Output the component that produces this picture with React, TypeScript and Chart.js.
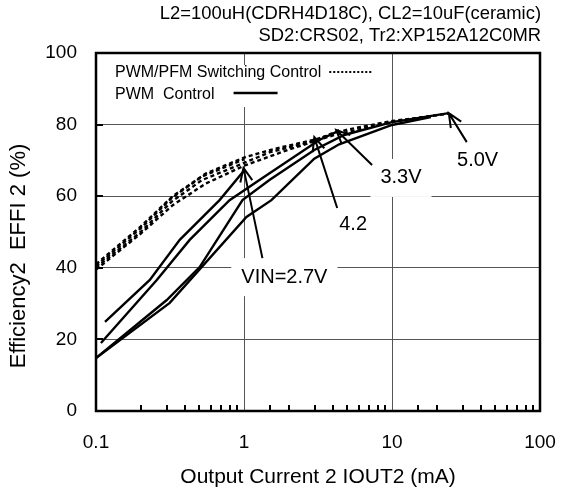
import React, { useEffect, useRef } from 'react';
import { Chart, registerables } from 'chart.js';

Chart.register(...registerables);

const FONT = '"Liberation Sans", Arial, Helvetica, sans-serif';

// ---- axis ticks ----
const xMajorTicks = [0.1, 1, 10, 100];
const yTickStep = 20;

// ---- PWM control (solid lines) ----
const pwm27X = [0.115, 0.231, 0.368, 0.684, 1.008];
const pwm27Y = [24.9, 36.6, 47.8, 58.9, 67.3];
const pwm33X = [0.108, 0.2575, 0.4295, 0.7988, 1.272, 3.224, 4.4];
const pwm33Y = [19.0, 36.6, 47.8, 58.9, 64.5, 75.7, 78.3];
const pwm42X = [0.1, 0.315, 1.039, 1.532, 2.984, 4.396, 10, 18.3];
const pwm42Y = [14.8, 30.2, 54.2, 58.9, 70.5, 74.5, 79.9, 82.1];
const pwm50X = [0.1, 0.3007, 0.5017, 0.977, 1.485, 2.984, 4.752, 10, 24.2];
const pwm50Y = [14.8, 31.0, 40.2, 58.9, 64.5, 72.9, 77.1, 80.7, 83.2];

// ---- PWM/PFM switching control (dashed lines) ----
const pfm27X = [0.1, 0.2, 0.325, 0.52, 1.0];
const pfm27Y = [40.5, 51.0, 59.5, 65.5, 70.3];
const pfm33X = [0.1, 0.2, 0.325, 0.52, 1.0, 1.5, 3.0, 4.4];
const pfm33Y = [40.0, 50.0, 58.5, 64.5, 69.3, 72.3, 75.5, 78.4];
const pfm42X = [0.1, 0.2, 0.33, 0.55, 1.0, 1.6, 3.0, 5.0, 10, 18.3];
const pfm42Y = [41.0, 51.5, 60.0, 66.3, 70.8, 73.2, 75.8, 78.6, 81.0, 82.3];
const pfm50X = [0.1, 0.2, 0.33, 0.55, 1.0, 2.0, 4.0, 10, 24.2];
const pfm50Y = [39.5, 49.5, 57.5, 63.5, 68.5, 73.0, 77.0, 80.8, 83.1];

// ---- annotations (data coordinates) ----
const noteLabels = ['VIN=2.7V', '4.2', '3.3V', '5.0V'];
const noteTextX = [1.874, 5.46, 11.5, 37.9];
const noteTextY = [37.4, 52.0, 65.1, 70.1];
const noteTailX = [1.332, 4.263, 7.335, 32.0];
const noteTailY = [42.7, 56.7, 68.7, 75.1];
const noteTipX = [0.992, 2.984, 4.197, 24.2];
const noteTipY = [67.9, 76.5, 78.5, 83.2];

const headerLines = ['L2=100uH(CDRH4D18C), CL2=10uF(ceramic)', 'SD2:CRS02, Tr2:XP152A12C0MR'];
const legendLabels = ['PWM/PFM Switching Control', 'PWM  Control'];
const xTitle = 'Output Current 2 IOUT2 (mA)';
const yTitle = 'Efficiency2  EFFI 2 (%)';

const toPoints = (xs: number[], ys: number[]) => xs.map((x, i) => ({ x, y: ys[i] }));
const isDecade = (v: number) => Math.abs(Math.log10(v) - Math.round(Math.log10(v))) < 1e-6;

function drawArrow(ctx: CanvasRenderingContext2D, x1: number, y1: number, x2: number, y2: number) {
  const a = Math.atan2(y2 - y1, x2 - x1);
  const L = 15;
  const s = 0.42;
  ctx.beginPath();
  ctx.moveTo(x1, y1);
  ctx.lineTo(x2, y2);
  ctx.moveTo(x2 - L * Math.cos(a - s), y2 - L * Math.sin(a - s));
  ctx.lineTo(x2, y2);
  ctx.lineTo(x2 - L * Math.cos(a + s), y2 - L * Math.sin(a + s));
  ctx.stroke();
}

const decor = {
  id: 'decor',
  beforeDatasetsDraw(chart: any) {
    const ctx = chart.ctx as CanvasRenderingContext2D;
    const xs = chart.scales.x;
    const ys = chart.scales.y;
    const area = chart.chartArea;
    ctx.save();
    ctx.fillStyle = '#fff';
    // legend background
    ctx.fillRect(area.left + 8, area.top + 12, 280, 42);
    // label backgrounds
    ctx.font = `20px ${FONT}`;
    noteLabels.forEach((t, i) => {
      const cx = xs.getPixelForValue(noteTextX[i]);
      const cy = ys.getPixelForValue(noteTextY[i]);
      const w = ctx.measureText(t).width + 20;
      ctx.fillRect(cx - w / 2, cy - 19, w, 38);
    });
    ctx.restore();
  },
  afterDatasetsDraw(chart: any) {
    const ctx = chart.ctx as CanvasRenderingContext2D;
    const xs = chart.scales.x;
    const ys = chart.scales.y;
    const area = chart.chartArea;
    ctx.save();
    ctx.strokeStyle = '#000';
    ctx.fillStyle = '#000';
    // minor ticks on x axis (inward)
    ctx.lineWidth = 2;
    xs.ticks.forEach((t: any) => {
      if (isDecade(t.value)) return;
      const px = Math.round(xs.getPixelForValue(t.value));
      ctx.beginPath();
      ctx.moveTo(px, area.bottom);
      ctx.lineTo(px, area.bottom - 6);
      ctx.stroke();
    });
    // y ticks inward
    ys.ticks.forEach((t: any) => {
      const py = Math.round(ys.getPixelForValue(t.value));
      ctx.beginPath();
      ctx.moveTo(area.left, py);
      ctx.lineTo(area.left + 7, py);
      ctx.stroke();
    });
    // frame
    ctx.lineWidth = 2.5;
    ctx.strokeRect(area.left, area.top, area.right - area.left, area.bottom - area.top);

    // arrows
    ctx.lineWidth = 2;
    noteLabels.forEach((_, i) => {
      drawArrow(
        ctx,
        xs.getPixelForValue(noteTailX[i]), ys.getPixelForValue(noteTailY[i]),
        xs.getPixelForValue(noteTipX[i]), ys.getPixelForValue(noteTipY[i])
      );
    });

    // annotation text
    ctx.font = `20px ${FONT}`;
    ctx.textAlign = 'center';
    ctx.textBaseline = 'middle';
    noteLabels.forEach((t, i) => {
      ctx.fillText(t, xs.getPixelForValue(noteTextX[i]), ys.getPixelForValue(noteTextY[i]));
    });

    // legend
    ctx.font = `16px ${FONT}`;
    ctx.textAlign = 'left';
    const lx = area.left + 19;
    ctx.fillText(legendLabels[0], lx, area.top + 20);
    ctx.fillText(legendLabels[1], lx, area.top + 42);
    const w0 = ctx.measureText(legendLabels[0]).width;
    const w1 = ctx.measureText(legendLabels[1]).width;
    ctx.lineWidth = 2;
    ctx.setLineDash([2, 2]);
    ctx.beginPath();
    ctx.moveTo(lx + w0 + 8, area.top + 19);
    ctx.lineTo(lx + w0 + 50, area.top + 19);
    ctx.stroke();
    ctx.setLineDash([]);
    ctx.lineWidth = 2.5;
    ctx.beginPath();
    ctx.moveTo(lx + w1 + 19, area.top + 40);
    ctx.lineTo(lx + w1 + 63, area.top + 40);
    ctx.stroke();

    // header
    ctx.font = `18.4px ${FONT}`;
    ctx.textAlign = 'right';
    ctx.fillText(headerLines[0], area.right + 1, 14);
    ctx.fillText(headerLines[1], area.right + 1, 36);

    // axis titles
    ctx.font = `21px ${FONT}`;
    ctx.textAlign = 'center';
    ctx.fillText(xTitle, (area.left + area.right) / 2, 477);
    ctx.font = `22px ${FONT}`;
    ctx.save();
    ctx.translate(19, 256);
    ctx.rotate(-Math.PI / 2);
    ctx.fillText(yTitle, 0, 0);
    ctx.restore();
    ctx.restore();
  },
};

export default function App() {
  const ref = useRef<HTMLCanvasElement | null>(null);
  useEffect(() => {
    if (!ref.current) return;
    const solid = { borderColor: '#000', borderWidth: 2.4, pointRadius: 0, showLine: true, fill: false, tension: 0 };
    const dashed = { ...solid, borderDash: [4, 3], borderWidth: 2.4 };
    const chart = new Chart(ref.current, {
      type: 'scatter',
      data: {
        datasets: [
          { label: 'PWM/PFM 2.7V', data: toPoints(pfm27X, pfm27Y), ...dashed },
          { label: 'PWM/PFM 3.3V', data: toPoints(pfm33X, pfm33Y), ...dashed },
          { label: 'PWM/PFM 4.2V', data: toPoints(pfm42X, pfm42Y), ...dashed },
          { label: 'PWM/PFM 5.0V', data: toPoints(pfm50X, pfm50Y), ...dashed },
          { label: 'PWM 2.7V', data: toPoints(pwm27X, pwm27Y), ...solid },
          { label: 'PWM 3.3V', data: toPoints(pwm33X, pwm33Y), ...solid },
          { label: 'PWM 4.2V', data: toPoints(pwm42X, pwm42Y), ...solid },
          { label: 'PWM 5.0V', data: toPoints(pwm50X, pwm50Y), ...solid },
        ],
      } as any,
      options: {
        animation: false,
        responsive: false,
        devicePixelRatio: 1,
        layout: { padding: { left: 0, top: 53, right: 29, bottom: 0 } },
        plugins: { legend: { display: false }, tooltip: { enabled: false }, title: { display: false } },
        scales: {
          x: {
            type: 'logarithmic',
            min: 0.1,
            max: 100,
            border: { display: false },
            grid: {
              drawTicks: false,
              lineWidth: 1,
              color: (c: any) => {
                const v = c.tick && c.tick.value;
                return v && isDecade(v) && v > 0.1 && v < 100 ? '#555' : 'rgba(0,0,0,0)';
              },
            },
            ticks: {
              autoSkip: false,
              maxRotation: 0,
              minRotation: 0,
              padding: 20,
              color: '#000',
              font: { family: FONT, size: 19 },
              callback: (v: any) => {
                const n = Number(v);
                return xMajorTicks.some((m) => Math.abs(m - n) / m < 1e-6) ? String(n) : '';
              },
            },
            afterFit: (s: any) => {
              s.height = 84;
              s.paddingLeft = 0;
              s.paddingRight = 0;
            },
          } as any,
          y: {
            type: 'linear',
            min: 0,
            max: 100,
            border: { display: false },
            grid: {
              drawTicks: false,
              lineWidth: 1,
              color: (c: any) => {
                const v = c.tick && c.tick.value;
                return v > 0 && v < 100 ? '#555' : 'rgba(0,0,0,0)';
              },
            },
            ticks: {
              stepSize: yTickStep,
              padding: 19,
              color: '#000',
              font: { family: FONT, size: 19 },
            },
            afterFit: (s: any) => {
              s.width = 96;
              s.paddingTop = 0;
              s.paddingBottom = 0;
            },
          } as any,
        },
      } as any,
      plugins: [decor],
    });
    return () => chart.destroy();
  }, []);
  return (
    <div style={{ position: 'fixed', left: 0, top: 0, width: 569, height: 495, background: '#fff' }}>
      <canvas ref={ref} width={569} height={495} />
    </div>
  );
}
